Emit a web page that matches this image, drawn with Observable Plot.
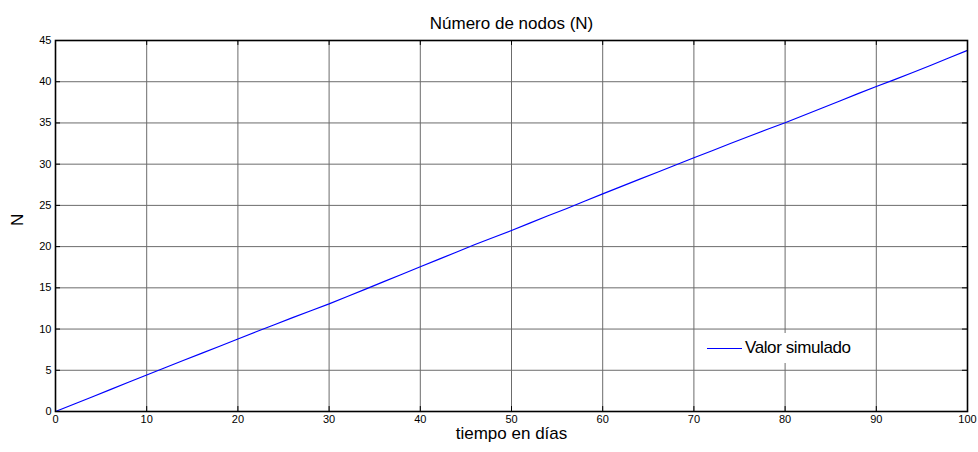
<!DOCTYPE html>
<html>
<head>
<meta charset="utf-8">
<script src="https://cdn.jsdelivr.net/npm/d3@7"></script>
<script src="https://cdn.jsdelivr.net/npm/@observablehq/plot@0.6"></script>
<style>
  body { margin: 0; background: #fff; }
  #chart { position: relative; width: 978px; height: 452px; font-family: "Liberation Sans", Arial, sans-serif; }
  #legend { position: absolute; left: 700px; top: 333px; width: 160px; height: 30px; background: #fff;
            display: flex; align-items: center; font-size: 17px; letter-spacing: -0.4px; color: #000; }
  #legend svg { margin-left: 7px; margin-right: 3px; }
</style>
</head>
<body>
<div id="chart">
  <div id="legend"><svg width="35" height="30"><line x1="0" x2="35" y1="15.5" y2="15.5" stroke="#0000ff" stroke-width="1"></line></svg><span>Valor simulado</span></div>
</div>
<script>
// simulated number of nodes over time (days)
const days = [0, 2, 4, 6, 8, 10, 12, 14, 16, 18, 20, 22, 24, 26, 28, 30, 32, 34, 36, 38, 40,
  42, 44, 46, 48, 50, 52, 54, 56, 58, 60, 62, 64, 66, 68, 70, 72, 74, 76, 78, 80,
  82, 84, 86, 88, 90, 92, 94, 96, 98, 100];
const nodes = [0, 0.88, 1.76, 2.65, 3.55, 4.42, 5.3, 6.18, 7.05, 7.92, 8.8, 9.68, 10.52, 11.38, 12.22, 13.05,
  13.95, 14.85, 15.75, 16.65, 17.55, 18.45, 19.35, 20.25, 21.1, 21.95, 22.85, 23.75, 24.6, 25.5, 26.4,
  27.28, 28.15, 29.02, 29.9, 30.78, 31.63, 32.5, 33.36, 34.2, 35.02, 35.9, 36.78, 37.66, 38.55, 39.42,
  40.25, 41.12, 42.0, 42.9, 43.8];
const xTicks = [0, 10, 20, 30, 40, 50, 60, 70, 80, 90, 100];
const yTicks = [0, 5, 10, 15, 20, 25, 30, 35, 40, 45];

const data = days.map((d, i) => ({day: d, n: nodes[i]}));

const plot = Plot.plot({
  width: 978,
  height: 452,
  marginLeft: 55,
  marginRight: 11,
  marginTop: 40,
  marginBottom: 41,
  style: {fontFamily: "'Liberation Sans', Arial, sans-serif", fontSize: "11px", color: "#000", background: "#fff"},
  x: {domain: [0, 100]},
  y: {domain: [0, 45]},
  marks: [
    Plot.gridX(xTicks, {stroke: "#6c6c6c", strokeOpacity: 1}),
    Plot.gridY(yTicks, {stroke: "#6c6c6c", strokeOpacity: 1}),
    // short inward tick marks on all four sides
    Plot.ruleX(xTicks, {x: d => d, y1: 0, y2: 0.6, stroke: "#000"}),
    Plot.ruleX(xTicks, {x: d => d, y1: 44.4, y2: 45, stroke: "#000"}),
    Plot.ruleY(yTicks, {y: d => d, x1: 0, x2: 0.55, stroke: "#000"}),
    Plot.ruleY(yTicks, {y: d => d, x1: 99.45, x2: 100, stroke: "#000"}),
    Plot.line(data, {x: "day", y: "n", stroke: "#0000ff", strokeWidth: 1.2}),
    Plot.frame({stroke: "#000", strokeWidth: 1.6}),
    Plot.axisX(xTicks, {tickSize: 0, tickPadding: 4, label: null, fontSize: 11}),
    Plot.axisY(yTicks, {tickSize: 0, tickPadding: 4, label: null, fontSize: 11}),
    Plot.text(["tiempo en días"], {frameAnchor: "bottom", dy: 27, fontSize: 17, fill: "#000"}),
    Plot.text(["N"], {frameAnchor: "left", dx: -38, rotate: -90, fontSize: 17, fill: "#000"}),
    Plot.text(["Número de nodos (N)"], {frameAnchor: "top", dy: -24, fontSize: 17, fill: "#000"})
  ]
});
document.getElementById("chart").prepend(plot);
</script>
</body>
</html>
